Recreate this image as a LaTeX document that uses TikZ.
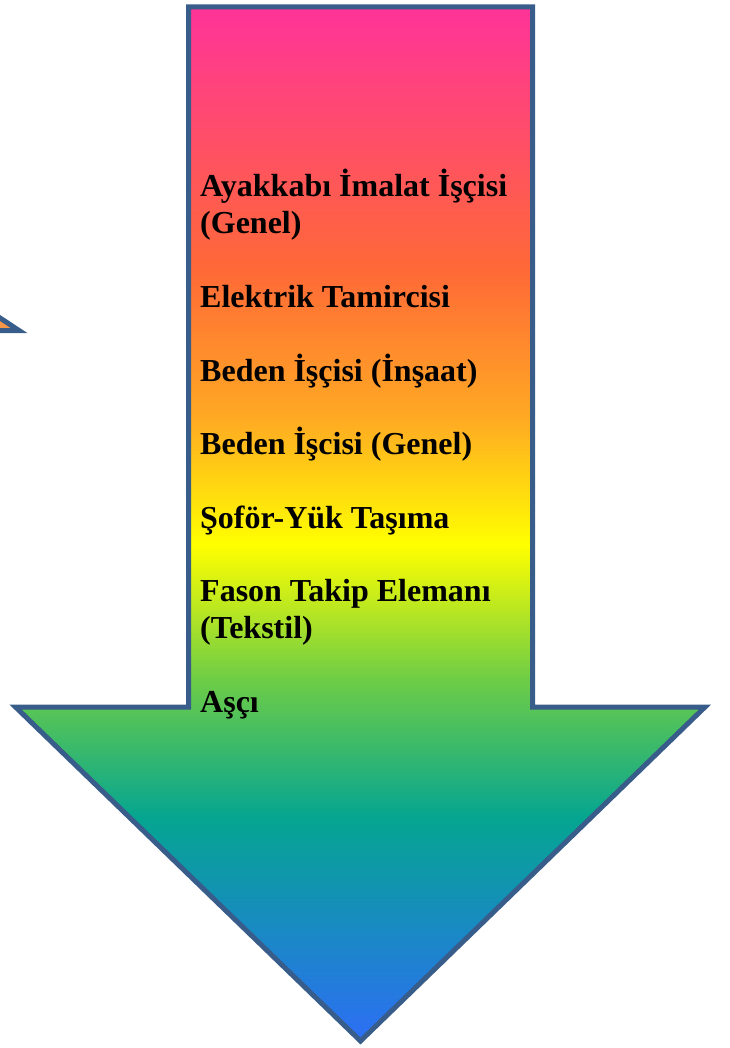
\documentclass[tikz,border=0pt]{standalone}
\usepackage{fontspec}
\setmainfont{Liberation Serif}
\usepackage{tikz}

\definecolor{edgeblue}{RGB}{56,93,138}
\definecolor{wingorange}{RGB}{247,150,70}
\pgfdeclareverticalshading{jobgrad}{100bp}{%
  color(0bp)=(rgb,255:red,45;green,110;blue,245);
  color(25bp)=(rgb,255:red,45;green,110;blue,245);
  color(35.8bp)=(rgb,255:red,5;green,165;blue,145);
  color(42.5bp)=(rgb,255:red,110;green,205;blue,70);
  color(49bp)=(rgb,255:red,255;green,255;blue,0);
  color(55.1bp)=(rgb,255:red,255;green,170;blue,35);
  color(62.3bp)=(rgb,255:red,255;green,105;blue,55);
  color(75bp)=(rgb,255:red,255;green,51;blue,153);
  color(100bp)=(rgb,255:red,255;green,51;blue,153)}

\begin{document}
\begin{tikzpicture}[x=1pt,y=-1pt,
    job/.style={anchor=base west,inner sep=0pt,align=left,
      font=\fontsize{32}{36.8}\selectfont\bfseries}]
        \useasboundingbox (0,0) rectangle (729,1048);
        % small wing on the left
        \filldraw[fill=wingorange,draw=edgeblue,line width=5pt,line join=miter]
          (-40,291.5) -- (19,330.5) -- (-40,330.5) -- cycle;
        % big arrow
        \shadedraw[shading=jobgrad,draw=edgeblue,line width=5pt,line join=miter]
          (188.5,7) -- (532.5,7) -- (532.5,707) -- (705,707) -- (360.5,1041)
          -- (15.5,707) -- (188.5,707) -- cycle;
        % base = last line of a node
        \foreach \y/\name/\txt in {233.8/ayakkabi/{Ayakkabı İmalat İşçisi\\(Genel)},
            307.4/elektrik/{Elektrik Tamircisi},
            381/bedenins/{Beden İşçisi (İnşaat)},
            454.6/bedengen/{Beden İşcisi (Genel)},
            528.2/sofor/{Şoför-Yük Taşıma},
            638.6/fason/{Fason Takip Elemanı\\(Tekstil)},
            712.2/asci/{Aşçı}}
          \node[job] (\name) at (200,\y) {\txt};
        \end{tikzpicture}
\end{document}
